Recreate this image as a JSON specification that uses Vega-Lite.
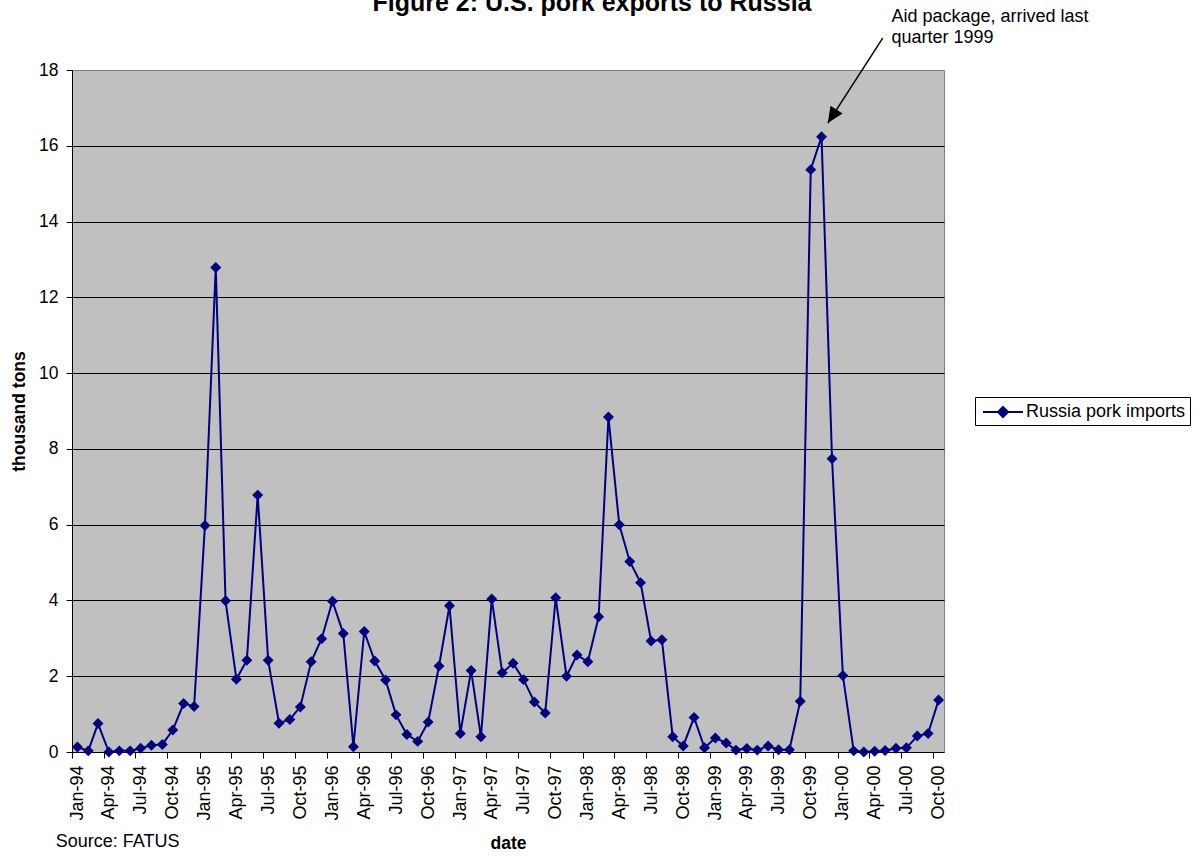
{
  "$schema": "https://vega.github.io/schema/vega-lite/v6.json",
  "autosize": {"type": "none"},
  "padding": {"left": 72, "top": 70, "right": 258, "bottom": 106},
  "width": 872,
  "height": 682,
  "background": "white",
  "title": {
    "text": "Figure 2:  U.S. pork exports to Russia",
    "font": "Liberation Sans",
    "fontSize": 25,
    "fontWeight": "bold",
    "color": "black",
    "anchor": "middle",
    "frame": "group",
    "baseline": "alphabetic",
    "dx": 84,
    "dy": 22,
    "offset": -6
  },
  "datasets": {
    "exports": [
      {"date": "1994-01-01", "tons": 0.13},
      {"date": "1994-02-01", "tons": 0.03},
      {"date": "1994-03-01", "tons": 0.75},
      {"date": "1994-04-01", "tons": 0.0},
      {"date": "1994-05-01", "tons": 0.03},
      {"date": "1994-06-01", "tons": 0.03},
      {"date": "1994-07-01", "tons": 0.1},
      {"date": "1994-08-01", "tons": 0.18},
      {"date": "1994-09-01", "tons": 0.2},
      {"date": "1994-10-01", "tons": 0.58},
      {"date": "1994-11-01", "tons": 1.28},
      {"date": "1994-12-01", "tons": 1.2},
      {"date": "1995-01-01", "tons": 5.98},
      {"date": "1995-02-01", "tons": 12.79},
      {"date": "1995-03-01", "tons": 3.99},
      {"date": "1995-04-01", "tons": 1.92},
      {"date": "1995-05-01", "tons": 2.42},
      {"date": "1995-06-01", "tons": 6.78},
      {"date": "1995-07-01", "tons": 2.42},
      {"date": "1995-08-01", "tons": 0.76},
      {"date": "1995-09-01", "tons": 0.86},
      {"date": "1995-10-01", "tons": 1.19},
      {"date": "1995-11-01", "tons": 2.38},
      {"date": "1995-12-01", "tons": 2.99},
      {"date": "1996-01-01", "tons": 3.98},
      {"date": "1996-02-01", "tons": 3.13},
      {"date": "1996-03-01", "tons": 0.14},
      {"date": "1996-04-01", "tons": 3.18},
      {"date": "1996-05-01", "tons": 2.4},
      {"date": "1996-06-01", "tons": 1.9},
      {"date": "1996-07-01", "tons": 0.98},
      {"date": "1996-08-01", "tons": 0.46},
      {"date": "1996-09-01", "tons": 0.28},
      {"date": "1996-10-01", "tons": 0.79},
      {"date": "1996-11-01", "tons": 2.27},
      {"date": "1996-12-01", "tons": 3.86},
      {"date": "1997-01-01", "tons": 0.49},
      {"date": "1997-02-01", "tons": 2.15},
      {"date": "1997-03-01", "tons": 0.4},
      {"date": "1997-04-01", "tons": 4.04},
      {"date": "1997-05-01", "tons": 2.09},
      {"date": "1997-06-01", "tons": 2.34},
      {"date": "1997-07-01", "tons": 1.91},
      {"date": "1997-08-01", "tons": 1.32},
      {"date": "1997-09-01", "tons": 1.03},
      {"date": "1997-10-01", "tons": 4.07},
      {"date": "1997-11-01", "tons": 2.0},
      {"date": "1997-12-01", "tons": 2.56},
      {"date": "1998-01-01", "tons": 2.38},
      {"date": "1998-02-01", "tons": 3.57},
      {"date": "1998-03-01", "tons": 8.84},
      {"date": "1998-04-01", "tons": 6.0},
      {"date": "1998-05-01", "tons": 5.03},
      {"date": "1998-06-01", "tons": 4.47},
      {"date": "1998-07-01", "tons": 2.93},
      {"date": "1998-08-01", "tons": 2.96},
      {"date": "1998-09-01", "tons": 0.4},
      {"date": "1998-10-01", "tons": 0.16},
      {"date": "1998-11-01", "tons": 0.91},
      {"date": "1998-12-01", "tons": 0.11},
      {"date": "1999-01-01", "tons": 0.37},
      {"date": "1999-02-01", "tons": 0.24},
      {"date": "1999-03-01", "tons": 0.05},
      {"date": "1999-04-01", "tons": 0.09},
      {"date": "1999-05-01", "tons": 0.05},
      {"date": "1999-06-01", "tons": 0.16},
      {"date": "1999-07-01", "tons": 0.06},
      {"date": "1999-08-01", "tons": 0.06},
      {"date": "1999-09-01", "tons": 1.34},
      {"date": "1999-10-01", "tons": 15.37},
      {"date": "1999-11-01", "tons": 16.24},
      {"date": "1999-12-01", "tons": 7.74},
      {"date": "2000-01-01", "tons": 2.02},
      {"date": "2000-02-01", "tons": 0.03},
      {"date": "2000-03-01", "tons": 0.0},
      {"date": "2000-04-01", "tons": 0.02},
      {"date": "2000-05-01", "tons": 0.04},
      {"date": "2000-06-01", "tons": 0.1},
      {"date": "2000-07-01", "tons": 0.11},
      {"date": "2000-08-01", "tons": 0.42},
      {"date": "2000-09-01", "tons": 0.49},
      {"date": "2000-10-01", "tons": 1.37}
    ],
    "arrow": [
      {"date": "2000-04-24", "tons": 18.84, "date_end": "1999-11-19", "tons_end": 16.6}
    ],
    "arrow_head": [
      {"date": "1999-11-19", "tons": 16.6}
    ],
    "note": [
      {"date": "2000-05-19", "tons": 19.27, "label": "Aid package, arrived last\nquarter 1999"}
    ],
    "source": [
      {"date": "1993-10-31", "tons": -2.5, "label": "Source: FATUS"}
    ]
  },
  "encoding": {
    "x": {
      "field": "date",
      "type": "temporal",
      "scale": {
        "type": "utc",
        "domain": [
          {"year": 1993, "month": 12, "date": 16, "hours": 12, "utc": true},
          {"year": 2000, "month": 10, "date": 16, "hours": 12, "utc": true}
        ],
        "nice": false
      },
      "axis": {
        "title": "date",
        "labelExpr": "utcFormat(datum.value, '%b-%y')",
        "values": [
          {"year": 1994, "month": 1, "date": 1, "utc": true},
          {"year": 1994, "month": 4, "date": 1, "utc": true},
          {"year": 1994, "month": 7, "date": 1, "utc": true},
          {"year": 1994, "month": 10, "date": 1, "utc": true},
          {"year": 1995, "month": 1, "date": 1, "utc": true},
          {"year": 1995, "month": 4, "date": 1, "utc": true},
          {"year": 1995, "month": 7, "date": 1, "utc": true},
          {"year": 1995, "month": 10, "date": 1, "utc": true},
          {"year": 1996, "month": 1, "date": 1, "utc": true},
          {"year": 1996, "month": 4, "date": 1, "utc": true},
          {"year": 1996, "month": 7, "date": 1, "utc": true},
          {"year": 1996, "month": 10, "date": 1, "utc": true},
          {"year": 1997, "month": 1, "date": 1, "utc": true},
          {"year": 1997, "month": 4, "date": 1, "utc": true},
          {"year": 1997, "month": 7, "date": 1, "utc": true},
          {"year": 1997, "month": 10, "date": 1, "utc": true},
          {"year": 1998, "month": 1, "date": 1, "utc": true},
          {"year": 1998, "month": 4, "date": 1, "utc": true},
          {"year": 1998, "month": 7, "date": 1, "utc": true},
          {"year": 1998, "month": 10, "date": 1, "utc": true},
          {"year": 1999, "month": 1, "date": 1, "utc": true},
          {"year": 1999, "month": 4, "date": 1, "utc": true},
          {"year": 1999, "month": 7, "date": 1, "utc": true},
          {"year": 1999, "month": 10, "date": 1, "utc": true},
          {"year": 2000, "month": 1, "date": 1, "utc": true},
          {"year": 2000, "month": 4, "date": 1, "utc": true},
          {"year": 2000, "month": 7, "date": 1, "utc": true},
          {"year": 2000, "month": 10, "date": 1, "utc": true}
        ],
        "labelAngle": -90,
        "labelAlign": "right",
        "labelBaseline": "middle",
        "labelFontSize": 18,
        "labelPadding": 7,
        "labelOverlap": false,
        "labelFlush": false,
        "tickOffset": -5.3,
        "labelOffset": 5.3,
        "tickSize": 6,
        "grid": false,
        "titleFontSize": 17.5,
        "titleFontWeight": "bold",
        "titlePadding": 14
      }
    },
    "y": {
      "field": "tons",
      "type": "quantitative",
      "scale": {"domain": [0, 18], "nice": false, "zero": true},
      "axis": {
        "title": "thousand tons",
        "values": [0, 2, 4, 6, 8, 10, 12, 14, 16, 18],
        "format": "d",
        "labelFontSize": 17.5,
        "labelPadding": 8,
        "tickSize": 6,
        "grid": true,
        "gridColor": "black",
        "gridOpacity": {"condition": {"test": "datum.value === 0 || datum.value === 18", "value": 0}, "value": 1},
        "titleFontSize": 17.5,
        "titleFontWeight": "bold",
        "titlePadding": 10
      }
    }
  },
  "layer": [
    {
      "data": {"name": "exports"},
      "mark": {"type": "line", "color": "#000080", "strokeWidth": 2}
    },
    {
      "data": {"name": "exports"},
      "mark": {"type": "point", "shape": "diamond", "filled": true, "size": 120, "opacity": 1},
      "encoding": {
        "color": {
          "datum": "Russia pork imports",
          "type": "nominal",
          "scale": {"range": ["#000080"]},
          "legend": {
            "title": null,
            "orient": "none",
            "legendX": 903,
            "legendY": 327,
            "strokeColor": "black",
            "fillColor": "white",
            "padding": 4,
            "symbolType": "M-2,0H2M0,-0.5L0.5,0L0,0.5L-0.5,0Z",
            "symbolSize": 400,
            "symbolStrokeWidth": 2,
            "symbolStrokeColor": "#000080",
            "symbolFillColor": "#000080",
            "symbolOffset": 13,
            "labelOffset": 12,
            "labelFontSize": 18,
            "labelColor": "black"
          }
        }
      }
    },
    {
      "data": {"name": "arrow"},
      "mark": {"type": "rule", "color": "black", "strokeWidth": 1.5},
      "encoding": {
        "x2": {"field": "date_end"},
        "y2": {"field": "tons_end"}
      }
    },
    {
      "data": {"name": "arrow_head"},
      "mark": {
        "type": "point",
        "shape": "M0,0L0.45,1L-0.45,1Z",
        "size": 1024,
        "filled": true,
        "color": "black",
        "opacity": 1,
        "angle": 212.9
      }
    },
    {
      "data": {"name": "note"},
      "mark": {
        "type": "text",
        "align": "left",
        "baseline": "alphabetic",
        "fontSize": 18,
        "lineHeight": 21,
        "lineBreak": "\n",
        "color": "black"
      },
      "encoding": {"text": {"field": "label"}}
    },
    {
      "data": {"name": "source"},
      "mark": {
        "type": "text",
        "align": "left",
        "baseline": "alphabetic",
        "fontSize": 18,
        "color": "black"
      },
      "encoding": {"text": {"field": "label"}}
    }
  ],
  "config": {
    "font": "Liberation Sans",
    "view": {"fill": "#C0C0C0", "stroke": "#808080", "strokeWidth": 1},
    "axis": {
      "domainColor": "black",
      "tickColor": "black",
      "labelColor": "black",
      "titleColor": "black",
      "labelFont": "Liberation Sans",
      "titleFont": "Liberation Sans"
    },
    "legend": {"labelFont": "Liberation Sans"}
  }
}
